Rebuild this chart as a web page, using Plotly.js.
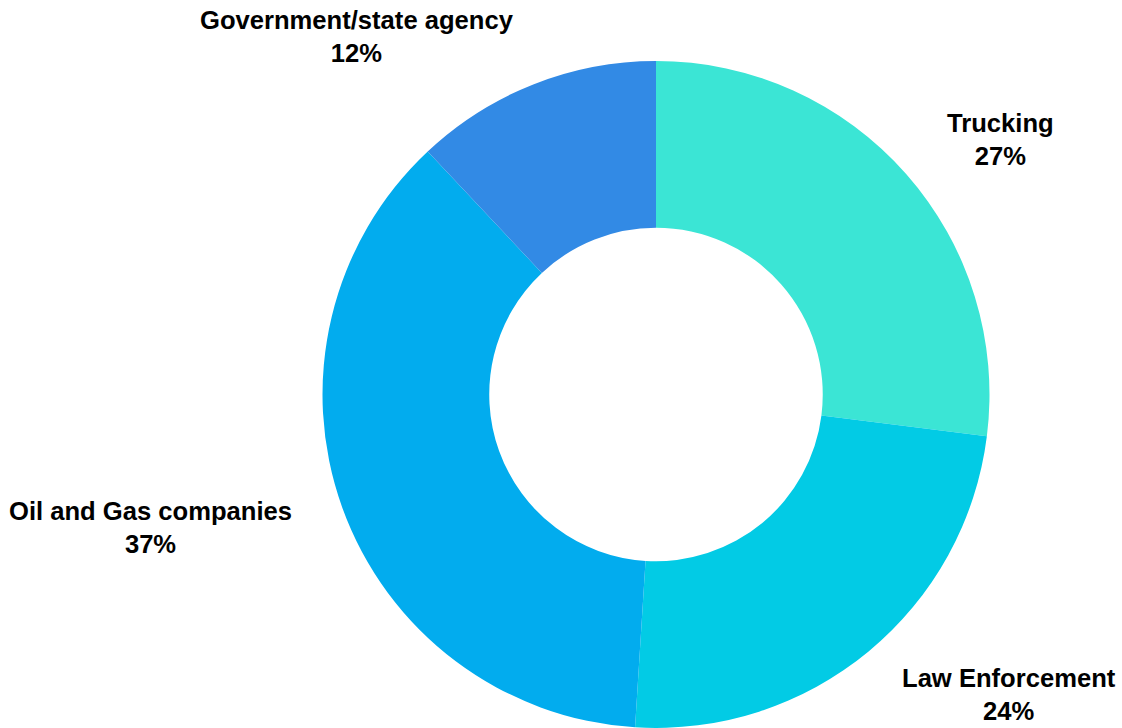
<!DOCTYPE html>
<html>
<head>
<meta charset="utf-8">
<script src="https://cdn.plot.ly/plotly-3.0.1.min.js"></script>
<style>html,body{margin:0;padding:0;background:#fff;}#chart{width:1122px;height:728px;}</style>
</head>
<body>
<div id="chart"></div>
<script>
const categories = ["Trucking", "Law Enforcement", "Oil and Gas companies", "Government/state agency"];
const shares = [27, 24, 37, 12];
const sliceColors = ["#3BE5D5", "#02CBE5", "#02ACEE", "#328AE5"];

// label anchor positions (pixels in the 1122x728 canvas) - layout only
const labelPosPx = [[1000, 139], [1009, 694], [150, 527], [357, 36]];

const W = 1122, H = 728;
const total = shares.reduce((a, b) => a + b, 0);

const trace = {
  type: "pie",
  labels: categories,
  values: shares,
  hole: 0.5,
  sort: false,
  direction: "clockwise",
  rotation: 0,
  textinfo: "none",
  hoverinfo: "label+percent",
  marker: { colors: sliceColors, line: { width: 0 } },
  domain: { x: [322 / W, 990 / W], y: [0, 1 - 61 / H] },
  showlegend: false
};

const annotations = categories.map((c, i) => ({
  xref: "paper", yref: "paper",
  x: labelPosPx[i][0] / W,
  y: 1 - labelPosPx[i][1] / H,
  xanchor: "center", yanchor: "middle",
  showarrow: false,
  align: "center",
  text: "<b>" + c + "</b><br><b>" + Math.round(shares[i] / total * 100) + "%</b>",
  font: { family: "Liberation Sans, Arial, sans-serif", size: 25.6, color: "#000" }
}));

const layout = {
  width: W, height: H,
  margin: { l: 0, r: 0, t: 0, b: 0 },
  paper_bgcolor: "#fff",
  plot_bgcolor: "#fff",
  showlegend: false,
  annotations: annotations
};

Plotly.newPlot("chart", [trace], layout, { displayModeBar: false, staticPlot: true });
</script>
</body>
</html>
